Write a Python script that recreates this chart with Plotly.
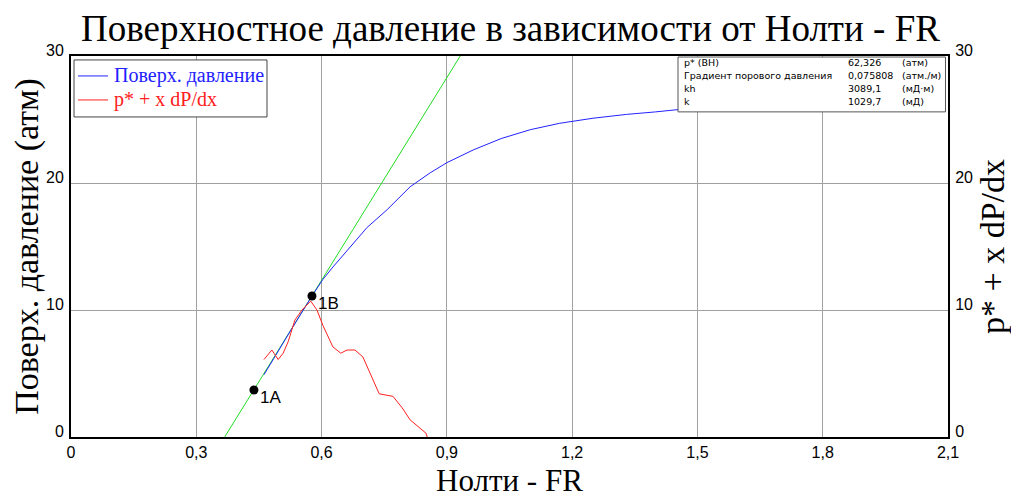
import plotly.graph_objects as go

# ---- data ----
surf_x = [0.462, 0.50, 0.53, 0.577, 0.603, 0.625, 0.661, 0.709, 0.757, 0.812, 0.86, 0.90, 0.963, 1.03, 1.10, 1.17, 1.25, 1.33, 1.40, 1.46]
surf_y = [4.9, 7.0, 8.6, 11.1, 12.4, 13.3, 14.7, 16.5, 17.9, 19.7, 20.8, 21.6, 22.6, 23.5, 24.2, 24.7, 25.1, 25.4, 25.6, 25.8]

red_x = [0.462, 0.481, 0.496, 0.508, 0.520, 0.536, 0.553, 0.570, 0.574, 0.589, 0.603, 0.627, 0.646, 0.661,
         0.680, 0.699, 0.720, 0.738, 0.771, 0.793, 0.812, 0.836, 0.850, 0.853]
red_y = [6.1, 6.85, 6.1, 6.6, 7.5, 9.2, 10.0, 10.6, 10.7, 10.0, 8.8, 7.1, 6.6, 6.85,
         6.85, 6.3, 4.7, 3.4, 3.2, 2.3, 1.35, 0.7, 0.3, 0.0]

fit_x = [0.368, 0.932]
fit_y = [0.0, 30.0]

pt_names = ["1A", "1B"]
pt_x = [0.438, 0.577]
pt_y = [3.7, 11.1]

x_ticks = [0, 0.3, 0.6, 0.9, 1.2, 1.5, 1.8, 2.1]
x_ticktext = ["0", "0,3", "0,6", "0,9", "1,2", "1,5", "1,8", "2,1"]
y_ticks = [0, 10, 20, 30]
y_ticktext = ["0", "10", "20", "30"]

info_labels = ["p* (ВН)", "Градиент порового давления", "kh", "k"]
info_values = ["62,326", "0,075808", "3089,1", "1029,7"]
info_units = ["(атм)", "(атм./м)", "(мД·м)", "(мД)"]

title = "Поверхностное давление в зависимости от Нолти - FR"
x_title = "Нолти - FR"
y_title = "Поверх. давление (атм)"
y2_title = "p* + x dP/dx"
name_blue = "Поверх. давление"
name_red = "p* + x dP/dx"

BLUE = "#2222ff"
RED = "#ff2020"
GREEN = "#22dd22"

# ---- figure ----
fig = go.Figure()

fig.add_trace(go.Scatter(x=fit_x, y=fit_y, mode="lines", line=dict(color=GREEN, width=1),
                         showlegend=False, hoverinfo="skip"))
fig.add_trace(go.Scatter(x=surf_x, y=surf_y, mode="lines", line=dict(color=BLUE, width=1),
                         name=name_blue, showlegend=False))
fig.add_trace(go.Scatter(x=red_x, y=red_y, mode="lines", line=dict(color=RED, width=1),
                         name=name_red, yaxis="y2", showlegend=False))
fig.add_trace(go.Scatter(x=pt_x, y=pt_y, mode="markers", marker=dict(color="black", size=9),
                         showlegend=False))

for n, xx, yy in zip(pt_names, pt_x, pt_y):
    fig.add_annotation(x=xx, y=yy, text=n, showarrow=False, xanchor="left", yanchor="middle",
                       xshift=4, yshift=-7, font=dict(family="Liberation Sans, Arial", size=17, color="black"))

serif = "Liberation Serif, Times New Roman"

# x-axis title as an annotation below the tick labels
fig.add_annotation(x=0.5, y=0, xref="paper", yref="paper", text=x_title, showarrow=False,
                   xanchor="center", yanchor="middle", yshift=-43,
                   font=dict(family=serif, size=31, color="black"))

# manual legend box (top-left inside plot)
fig.add_shape(type="rect", xref="x", yref="y", x0=0.0072, x1=0.4693, y0=25.2, y1=29.69,
              line=dict(color="#444444", width=1), fillcolor="white", layer="above")
for nm, col, yy in [(name_blue, BLUE, 28.43), (name_red, RED, 26.54)]:
    fig.add_shape(type="line", xref="x", yref="y", x0=0.0168, x1=0.0886, y0=yy, y1=yy,
                  line=dict(color=col, width=1), layer="above")
    fig.add_annotation(x=0.0982, y=yy, xref="x", yref="y", text=nm, showarrow=False,
                       xanchor="left", yanchor="middle", font=dict(family=serif, size=20, color=col))

# info box
fig.add_shape(type="rect", xref="x", yref="y", x0=1.4535, x1=2.094, y0=25.6, y1=29.92,
              line=dict(color="#555555", width=1), fillcolor="white", layer="above")
row_y = [29.45, 28.45, 27.45, 26.45]
for lab, val, unit, yy in zip(info_labels, info_values, info_units, row_y):
    f = dict(family="DejaVu Sans, Verdana", size=9.5, color="black")
    fig.add_annotation(x=1.463, y=yy, xref="x", yref="y", text=lab, showarrow=False, xanchor="left", yanchor="middle", font=f)
    fig.add_annotation(x=1.856, y=yy, xref="x", yref="y", text=val, showarrow=False, xanchor="left", yanchor="middle", font=f)
    fig.add_annotation(x=1.985, y=yy, xref="x", yref="y", text=unit, showarrow=False, xanchor="left", yanchor="middle", font=f)

tick_font = dict(family="Liberation Sans, Arial", size=16, color="black")

# page body adds an 8px margin, so the figure is 8px smaller and shifted
fig.update_layout(
    width=1011, height=492,
    margin=dict(l=63, r=71, t=48, b=63),
    paper_bgcolor="white", plot_bgcolor="white",
    title=dict(text=title, x=0.497, xanchor="center", y=1 - 20 / 492, yanchor="middle", automargin=False,
               font=dict(family=serif, size=37, color="black")),
    xaxis=dict(range=[0, 2.1], tickvals=x_ticks, ticktext=x_ticktext, tickfont=tick_font,
               showgrid=True, gridcolor="#a0a0a0", gridwidth=1, zeroline=False, automargin=False,
               showline=True, linecolor="black", linewidth=2, mirror=True, ticks=""),
    yaxis=dict(range=[0, 30], tickvals=y_ticks, ticktext=y_ticktext, tickfont=tick_font,
               showgrid=True, gridcolor="#a0a0a0", gridwidth=1, zeroline=False, automargin=False,
               showline=True, linecolor="black", linewidth=2, mirror=True, ticks="",
               ticklabelshift=-6, ticklabelstandoff=2,
               title=dict(text=y_title, font=dict(family=serif, size=34, color="black"), standoff=4)),
    yaxis2=dict(range=[0, 30], tickvals=y_ticks, ticktext=y_ticktext, tickfont=tick_font,
                overlaying="y", side="right", showgrid=False, zeroline=False, automargin=False,
                showline=True, linecolor="black", linewidth=2, ticks="",
                ticklabelshift=-6, ticklabelstandoff=2,
                title=dict(text=y2_title, font=dict(family=serif, size=34, color="black"), standoff=8)),
    showlegend=False,
)

fig.write_html("out.html")
